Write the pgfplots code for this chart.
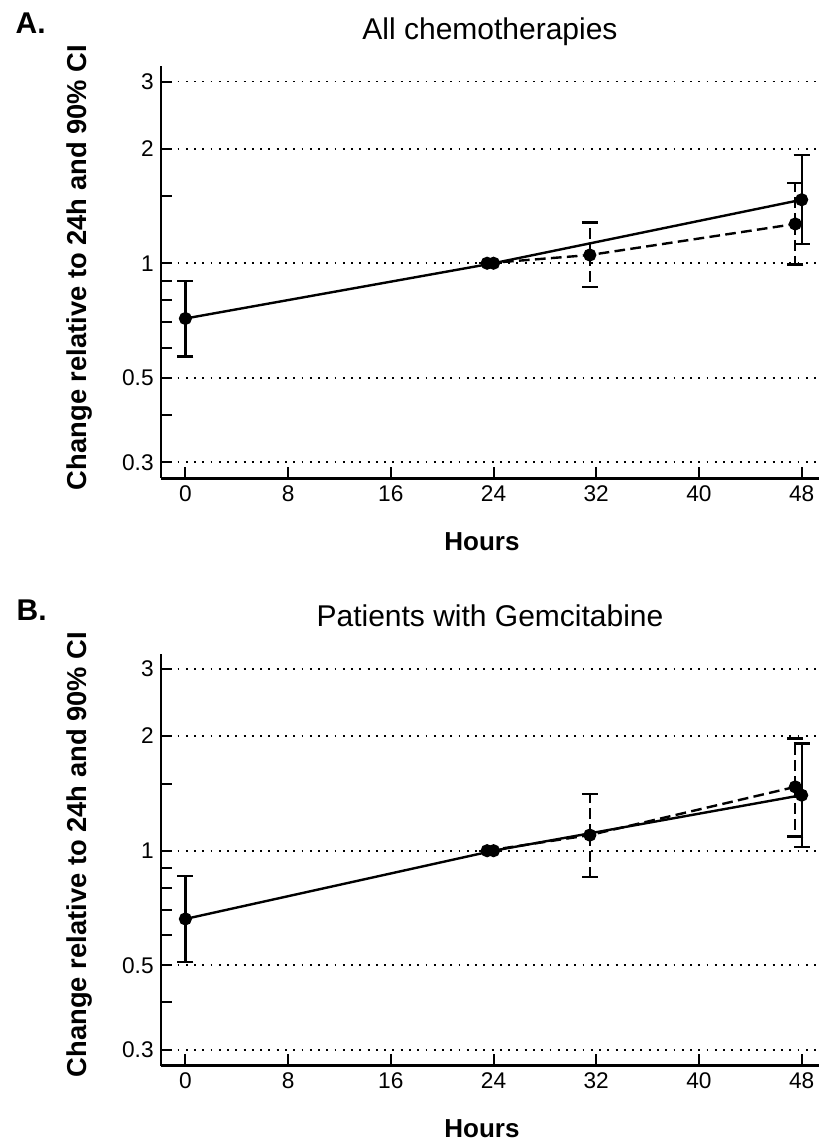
\documentclass[border=0pt]{standalone}
\usepackage{fontspec}
\setmainfont{Liberation Sans}
\usepackage{pgfplots}
\pgfplotsset{compat=1.18}

\pgfplotsset{
  panel/.style={
    scale only axis,
    anchor=south west,
    width=493.5pt, height=309pt,
    xmin=-1.9, xmax=49.35,
    ymin=0.2725, ymax=3.29,
    axis x line*=bottom, axis y line*=left,
    axis line style={line width=1.9pt, -},
    tick align=inside,
    major tick length=8.5pt, minor tick length=8.5pt,
    every tick/.style={line width=1.5pt, black},
    xtick={0,8,16,24,32,40,48},
    ytick={0.3,0.5,1,2,3},
    yticklabels={0.3,0.5,1,2,3},
    minor ytick={0.4,0.6,0.7,0.8,0.9,1.5},
    ymajorgrids,
    major grid style={line width=1.4pt, dash pattern=on 1.4pt off 4.8pt, black},
    /pgf/number format/assume math mode=true,
    tick label style={font=\fontsize{17pt}{20pt}\selectfont},
    xticklabel style={yshift=-2pt},
    yticklabel style={xshift=-2pt},
    clip=false,
  },
  solidser/.style={black, line width=1.8pt, mark=*, mark size=4pt,
    error bars/.cd, y dir=both, y explicit,
    error bar style={line width=1.7pt, solid},
    error mark options={rotate=90, mark size=6pt, line width=1.7pt}},
  dashser/.style={black, line width=1.8pt, dash pattern=on 8pt off 4pt, mark=*, mark size=4pt,
    mark options={solid},
    error bars/.cd, y dir=both, y explicit,
    error bar style={line width=1.7pt, dash pattern=on 8pt off 4pt},
    error mark options={rotate=90, mark size=6pt, line width=1.7pt, solid}},
}

\begin{document}
\begin{tikzpicture}
\path[use as bounding box] (0,0) rectangle (614.25pt,-856.5pt);

% panel A
\node[anchor=base west, font=\fontsize{22.5pt}{26pt}\selectfont\bfseries] at (8.25pt,-24.75pt) {A.};
\node[anchor=base, font=\fontsize{22.5pt}{26pt}\selectfont] at (367.5pt,-29.25pt) {All chemotherapies};
\node[anchor=base, rotate=90, font=\fontsize{20.5pt}{24pt}\selectfont\bfseries] at (64.5pt,-200.6pt) {Change relative to 24h and 90\% CI};
\node[anchor=base, font=\fontsize{19.5pt}{22pt}\selectfont\bfseries] at (361.5pt,-412.5pt) {Hours};
\begin{semilogyaxis}[panel, at={(120.75pt,-358.7pt)}]
\addplot[solidser] coordinates {
  (0,0.716) += (0,0.182) -= (0,0.147)
  (24,1) += (0,0) -= (0,0)
  (48,1.468) += (0,0.453) -= (0,0.344)
};
\addplot[dashser] coordinates {
  (23.5,1) += (0,0) -= (0,0)
  (31.5,1.051) += (0,0.229) -= (0,0.186)
  (47.5,1.268) += (0,0.355) -= (0,0.276)
};
\end{semilogyaxis}

% panel B
\node[anchor=base west, font=\fontsize{22.5pt}{26pt}\selectfont\bfseries] at (9pt,-465pt) {B.};
\node[anchor=base, font=\fontsize{22.5pt}{26pt}\selectfont] at (367.5pt,-469.5pt) {Patients with Gemcitabine};
\node[anchor=base, rotate=90, font=\fontsize{20.5pt}{24pt}\selectfont\bfseries] at (64.5pt,-640.9pt) {Change relative to 24h and 90\% CI};
\node[anchor=base, font=\fontsize{19.5pt}{22pt}\selectfont\bfseries] at (361.5pt,-852.75pt) {Hours};
\begin{semilogyaxis}[panel, at={(120.75pt,-799.3pt)}]
\addplot[solidser] coordinates {
  (0,0.662) += (0,0.196) -= (0,0.152)
  (24,1) += (0,0) -= (0,0)
  (48,1.399) += (0,0.514) -= (0,0.375)
};
\addplot[dashser] coordinates {
  (23.5,1) += (0,0) -= (0,0)
  (31.5,1.099) += (0,0.308) -= (0,0.247)
  (47.5,1.471) += (0,0.501) -= (0,0.381)
};
\end{semilogyaxis}
\end{tikzpicture}
\end{document}
